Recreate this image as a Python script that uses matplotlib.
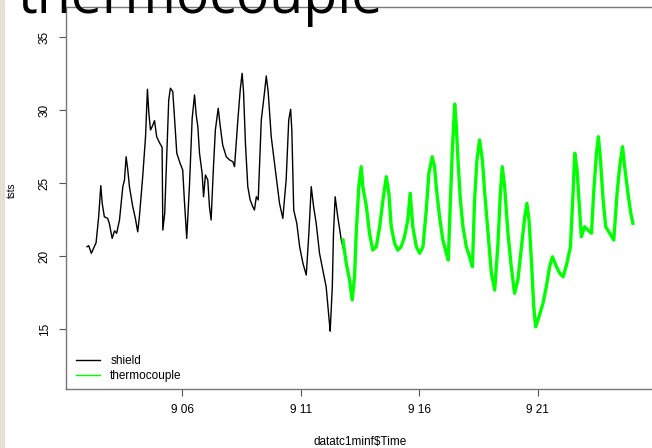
import matplotlib
matplotlib.use("Agg")
import matplotlib.pyplot as plt
import matplotlib.patches as mpatches

# hours since midnight of day 9, temperature
shield_t = [1.97, 2.04, 2.15, 2.35, 2.46, 2.55, 2.61, 2.70, 2.84, 2.91, 3.03, 3.13, 3.22, 3.34,
            3.48, 3.55, 3.62, 3.69, 3.76, 3.90, 4.01, 4.11, 4.18, 4.32, 4.44, 4.52, 4.58, 4.65,
            4.72, 4.82, 4.91, 5.03, 5.14, 5.17, 5.25, 5.34, 5.42, 5.49, 5.59, 5.67, 5.76, 5.90,
            6.01, 6.08, 6.18, 6.30, 6.41, 6.51, 6.58, 6.65, 6.72, 6.83, 6.89, 6.97, 7.07, 7.14,
            7.21, 7.31, 7.39, 7.51, 7.59, 7.70, 7.85, 7.99, 8.13, 8.20, 8.34, 8.44, 8.52, 8.58,
            8.66, 8.76, 8.86, 8.97, 9.04, 9.12, 9.20, 9.33, 9.47, 9.54, 9.62, 9.75, 9.96, 10.10,
            10.24, 10.38, 10.49, 10.57, 10.62, 10.70, 10.83, 10.95, 11.09, 11.23, 11.34, 11.44,
            11.54, 11.65, 11.79, 11.93, 12.07, 12.21, 12.24, 12.33, 12.38, 12.45, 12.56, 12.71,
            12.81]
shield_v = [20.64, 20.71, 20.19, 20.91, 22.69, 24.82, 23.61, 22.69, 22.58, 22.24, 21.21, 21.73,
            21.56, 22.47, 24.75, 25.21, 26.80, 25.89, 24.75, 23.38, 22.58, 21.66, 22.69, 25.43,
            28.17, 31.42, 29.77, 28.63, 28.86, 29.27, 28.17, 27.76, 27.45, 21.78, 22.93, 27.04,
            30.69, 31.49, 31.26, 29.32, 27.04, 26.35, 25.89, 23.84, 21.21, 24.98, 29.43, 31.03,
            29.66, 28.86, 27.04, 25.67, 24.06, 25.55, 25.21, 23.38, 22.47, 26.12, 28.63, 30.12,
            28.97, 27.60, 26.80, 26.58, 26.46, 26.12, 29.32, 31.37, 32.51, 31.26, 27.72, 24.75,
            23.84, 23.38, 23.15, 24.06, 23.84, 29.32, 31.26, 32.33, 31.26, 28.17, 25.43, 23.61,
            22.58, 25.21, 29.32, 30.05, 28.63, 23.15, 22.24, 20.64, 19.50, 18.70, 21.56, 24.75,
            23.38, 22.24, 20.19, 19.04, 17.90, 15.39, 14.86, 17.90, 21.56, 24.06, 22.69, 21.10,
            20.41]

tc_t = [12.78, 12.92, 13.06, 13.17, 13.27, 13.34, 13.45, 13.55, 13.62, 13.77, 13.90, 14.04,
        14.19, 14.33, 14.47, 14.61, 14.72, 14.82, 14.96, 15.10, 15.24, 15.38, 15.52, 15.62,
        15.73, 15.88, 16.02, 16.16, 16.30, 16.41, 16.55, 16.65, 16.72, 16.86, 17.00, 17.15,
        17.23, 17.32, 17.40, 17.50, 17.57, 17.64, 17.74, 17.85, 17.99, 18.13, 18.25, 18.34,
        18.44, 18.55, 18.67, 18.77, 18.91, 19.05, 19.19, 19.33, 19.43, 19.51, 19.61, 19.75,
        19.89, 20.03, 20.17, 20.32, 20.46, 20.55, 20.64, 20.74, 20.84, 20.92, 21.06, 21.23,
        21.37, 21.51, 21.63, 21.80, 21.94, 22.08, 22.24, 22.39, 22.50, 22.57, 22.67, 22.75,
        22.85, 22.99, 23.13, 23.28, 23.37, 23.49, 23.57, 23.66, 23.77, 23.88, 24.05, 24.22,
        24.36, 24.47, 24.59, 24.68, 24.82, 24.94, 25.03]
tc_v = [21.10, 19.50, 18.36, 16.99, 18.58, 21.56, 24.75, 26.12, 24.75, 23.38, 21.56, 20.41,
        20.64, 22.01, 23.84, 25.43, 24.30, 22.01, 20.87, 20.41, 20.64, 21.32, 22.47, 24.30,
        22.01, 20.64, 20.19, 20.64, 23.15, 25.67, 26.80, 26.12, 24.75, 22.69, 21.10, 20.19,
        19.73, 23.84, 27.26, 30.40, 28.86, 26.58, 23.84, 22.01, 20.64, 19.95, 19.27, 23.84,
        26.58, 27.95, 26.58, 24.30, 21.56, 18.82, 17.67, 20.87, 24.30, 26.12, 24.75, 21.56,
        19.27, 17.45, 18.36, 20.64, 22.69, 23.61, 22.47, 19.73, 16.53, 15.16, 15.84, 16.76,
        17.90, 19.27, 19.95, 19.27, 18.82, 18.58, 19.50, 20.64, 24.30, 27.04, 25.89, 23.84,
        21.32, 22.01, 21.78, 21.56, 24.30, 27.04, 28.17, 26.58, 23.84, 22.01, 21.56, 21.10,
        24.30, 26.12, 27.49, 26.12, 24.30, 22.93, 22.24]

x_ticks = [6, 11, 16, 21]
x_labels = ["9 06", "9 11", "9 16", "9 21"]
y_ticks = [15, 20, 25, 30, 35]

fig = plt.figure(figsize=(6.52, 4.48), dpi=100)
plt.rcParams['font.family'] = ['Liberation Sans', 'DejaVu Sans']

# slide background strip on the left edge
fig.patches.append(mpatches.Rectangle((0, 0), 4 / 652, 1, transform=fig.transFigure,
                                      color="#e6dfd5", zorder=0))

ax = fig.add_axes([66 / 652, 59 / 448, 588 / 652, 382 / 448])
ax.plot(shield_t, shield_v, color="black", linewidth=1.0, label="shield")
ax.plot(tc_t, tc_v, color="#00ff00", linewidth=2.4, label="thermocouple")

ax.set_xlim(1.08, 25.92)
ax.set_ylim(10.9, 37.05)
ax.set_xticks(x_ticks, x_labels)
ax.set_yticks(y_ticks, [str(v) for v in y_ticks])
for lab in ax.get_yticklabels():
    lab.set_rotation(90)
    lab.set_va("center")
ax.tick_params(direction="out", length=5, width=0.8, colors="#555555",
               labelcolor="black", labelsize=8.5, pad=6)

for sp in ax.spines.values():
    sp.set_color("#777777")
    sp.set_linewidth(1.0)

ax.set_xlabel("datatc1minf$Time", fontsize=8.5, labelpad=14)
fig.text(12 / 652, 1 - 190 / 448, "tsts", rotation=90, fontsize=7,
         ha="center", va="center")

leg = ax.legend(loc="lower left", frameon=False, fontsize=8.5, handlelength=2.0,
                handletextpad=0.9, labelspacing=0.25, borderaxespad=0.6,
                bbox_to_anchor=(-0.003, -0.012))
leg.get_lines()[1].set_linewidth(1.0)

# slide title, cut off by the top edge
fig.text(17 / 652, 1 - 13 / 448, "thermocouple", fontsize=40, family="Open Sans",
         ha="left", va="baseline")

fig.savefig("out.png", dpi=100)
